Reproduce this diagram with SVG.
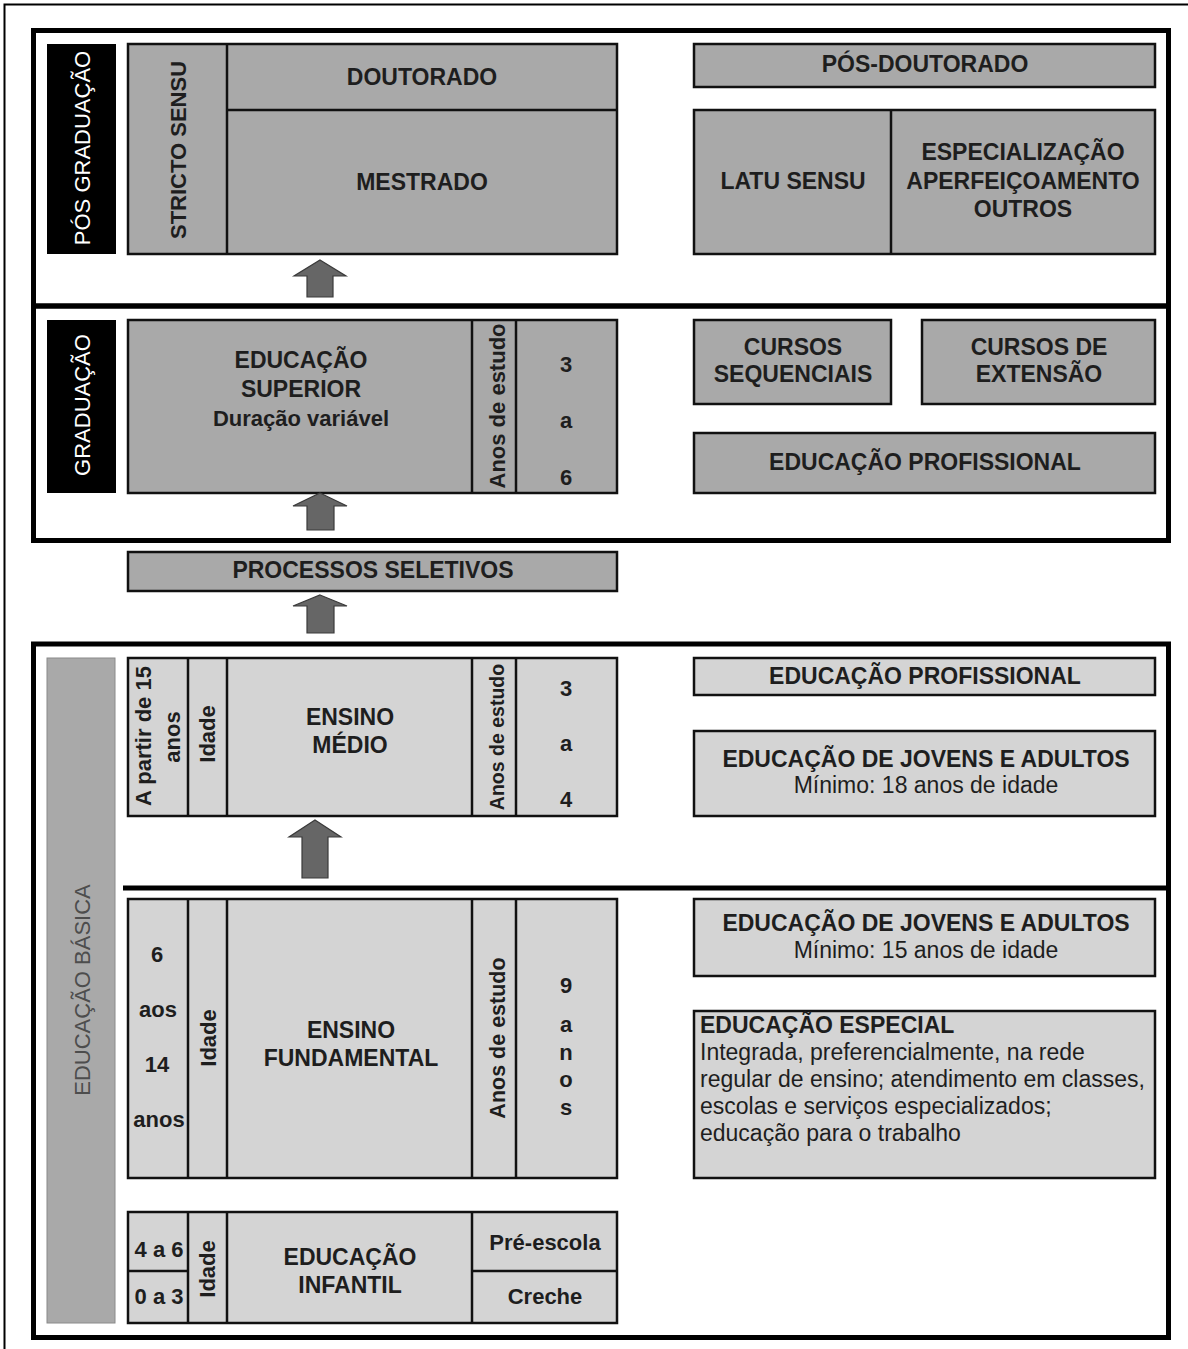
<svg xmlns="http://www.w3.org/2000/svg" width="1188" height="1349" viewBox="0 0 1188 1349">
<style>
.bg{fill:#fff}
.sec{fill:none;stroke:#000;stroke-width:5}
.dk{fill:#a9a9a9;stroke:#111;stroke-width:2.5}
.lt{fill:#d4d4d4;stroke:#111;stroke-width:2.5}
.blk{fill:#000}
.ln{stroke:#111;stroke-width:2.5;fill:none}
.arr{fill:#666;stroke:#3a3a3a;stroke-width:1.2}
text{font-family:"Liberation Sans",Arial,Helvetica,sans-serif;fill:#1e1e1e}
.b{font-weight:bold;font-size:23px;text-anchor:middle}
.r{font-weight:normal;font-size:23px;text-anchor:middle}
.bl{font-weight:bold;font-size:23px}
.rl{font-weight:normal;font-size:23px}
.vb{font-weight:bold;font-size:22px;text-anchor:middle}
.vr{font-weight:normal;font-size:22px;text-anchor:middle}
.w{fill:#fff}
.g{fill:#4d4d4d}
</style>
<rect class="bg" x="0" y="0" width="1188" height="1349"/>
<g id="page-border">
<polyline points="4.5,1349 4.5,4.5 1188,4.5" fill="none" stroke="#000" stroke-width="2"/>
</g>

<g id="sections">
<rect class="sec" x="33.5" y="30.5" width="1135" height="275.5"/>
<rect class="sec" x="33.5" y="306" width="1135" height="234.5"/>
<rect class="sec" x="33.5" y="644" width="1135" height="693.5"/>
<line x1="123" y1="888" x2="1168" y2="888" stroke="#000" stroke-width="5"/>
</g>

<!-- PÓS-GRADUAÇÃO -->
<g id="pos-graduacao-label">
<rect class="blk" x="47" y="44" width="69" height="210"/>
<text class="vr w" transform="translate(90,148) rotate(-90)">PÓS GRADUAÇÃO</text>
</g>
<g id="stricto-sensu">
<rect class="dk" x="128" y="44" width="489" height="210"/>
<line class="ln" x1="227" y1="44" x2="227" y2="254"/>
<line class="ln" x1="227" y1="110" x2="617" y2="110"/>
<text class="vb" transform="translate(186,150) rotate(-90)">STRICTO SENSU</text>
<text class="b" x="422" y="85">DOUTORADO</text>
<text class="b" x="422" y="190">MESTRADO</text>
</g>
<g id="pos-doutorado">
<rect class="dk" x="694" y="44" width="461" height="43"/>
<text class="b" x="925" y="72">PÓS-DOUTORADO</text>
</g>
<g id="latu-sensu">
<rect class="dk" x="694" y="110" width="461" height="144"/>
<line class="ln" x1="891" y1="110" x2="891" y2="254"/>
<text class="b" x="793" y="189">LATU SENSU</text>
<text class="b" x="1023" y="160">ESPECIALIZAÇÃO</text>
<text class="b" x="1023" y="189">APERFEIÇOAMENTO</text>
<text class="b" x="1023" y="217">OUTROS</text>
</g>

<!-- GRADUAÇÃO -->
<g id="graduacao-label">
<rect class="blk" x="47" y="320" width="69" height="173"/>
<text class="vr w" transform="translate(90,405) rotate(-90)">GRADUAÇÃO</text>
</g>
<g id="educacao-superior">
<rect class="dk" x="128" y="320" width="489" height="173"/>
<line class="ln" x1="472" y1="320" x2="472" y2="493"/>
<line class="ln" x1="516" y1="320" x2="516" y2="493"/>
<text class="b" x="301" y="368">EDUCAÇÃO</text>
<text class="b" x="301" y="397">SUPERIOR</text>
<text class="b" x="301" y="426" style="font-size:22px">Duração variável</text>
<text class="vb" transform="translate(505,406) rotate(-90)">Anos de estudo</text>
<text class="b" x="566" y="372" style="font-size:22px">3</text>
<text class="b" x="566" y="428" style="font-size:22px">a</text>
<text class="b" x="566" y="485" style="font-size:22px">6</text>
</g>
<g id="cursos-sequenciais">
<rect class="dk" x="694" y="320" width="197" height="84"/>
<text class="b" x="793" y="355">CURSOS</text>
<text class="b" x="793" y="382">SEQUENCIAIS</text>
</g>
<g id="cursos-extensao">
<rect class="dk" x="922" y="320" width="233" height="84"/>
<text class="b" x="1039" y="355">CURSOS DE</text>
<text class="b" x="1039" y="382">EXTENSÃO</text>
</g>
<g id="educacao-profissional-sup">
<rect class="dk" x="694" y="433" width="461" height="60"/>
<text class="b" x="925" y="470">EDUCAÇÃO PROFISSIONAL</text>
</g>

<g id="processos-seletivos">
<rect class="dk" x="128" y="552" width="489" height="39"/>
<text class="b" x="373" y="578">PROCESSOS SELETIVOS</text>
</g>

<!-- EDUCAÇÃO BÁSICA -->
<g id="educacao-basica-label">
<rect x="47" y="658" width="68" height="665" fill="#a9a9a9" stroke="#8a8a8a" stroke-width="1"/>
<text class="vr g" transform="translate(90,990) rotate(-90)">EDUCAÇÃO BÁSICA</text>
</g>
<g id="ensino-medio">
<rect class="lt" x="128" y="658" width="489" height="158"/>
<line class="ln" x1="188" y1="658" x2="188" y2="816"/>
<line class="ln" x1="227" y1="658" x2="227" y2="816"/>
<line class="ln" x1="472" y1="658" x2="472" y2="816"/>
<line class="ln" x1="516" y1="658" x2="516" y2="816"/>
<text class="vb" transform="translate(151,736) rotate(-90)">A partir de 15</text>
<text class="vb" transform="translate(180,737) rotate(-90)">anos</text>
<text class="vb" transform="translate(215,734) rotate(-90)">Idade</text>
<text class="b" x="350" y="725">ENSINO</text>
<text class="b" x="350" y="753">MÉDIO</text>
<text class="vb" transform="translate(504,737) rotate(-90)" style="font-size:19.5px">Anos de estudo</text>
<text class="b" x="566" y="696" style="font-size:22px">3</text>
<text class="b" x="566" y="751" style="font-size:22px">a</text>
<text class="b" x="566" y="807" style="font-size:22px">4</text>
</g>
<g id="educacao-profissional-med">
<rect class="lt" x="694" y="658" width="461" height="37"/>
<text class="b" x="925" y="684">EDUCAÇÃO PROFISSIONAL</text>
</g>
<g id="eja-18">
<rect class="lt" x="694" y="731" width="461" height="85"/>
<text class="b" x="926" y="767">EDUCAÇÃO DE JOVENS E ADULTOS</text>
<text class="r" x="926" y="793">Mínimo: 18 anos de idade</text>
</g>

<g id="ensino-fundamental">
<rect class="lt" x="128" y="899" width="489" height="279"/>
<line class="ln" x1="188" y1="899" x2="188" y2="1178"/>
<line class="ln" x1="227" y1="899" x2="227" y2="1178"/>
<line class="ln" x1="472" y1="899" x2="472" y2="1178"/>
<line class="ln" x1="516" y1="899" x2="516" y2="1178"/>
<text class="b" x="157" y="962" style="font-size:22px">6</text>
<text class="b" x="158" y="1017" style="font-size:22px">aos</text>
<text class="b" x="157" y="1072" style="font-size:22px">14</text>
<text class="b" x="159" y="1127" style="font-size:22px">anos</text>
<text class="vb" transform="translate(216,1038) rotate(-90)">Idade</text>
<text class="b" x="351" y="1038">ENSINO</text>
<text class="b" x="351" y="1066">FUNDAMENTAL</text>
<text class="vb" transform="translate(505,1038) rotate(-90)" style="font-size:21.5px">Anos de estudo</text>
<text class="b" x="566" y="993" style="font-size:22px">9</text>
<text class="b" x="566" y="1032" style="font-size:22px">a</text>
<text class="b" x="566" y="1060" style="font-size:22px">n</text>
<text class="b" x="566" y="1087" style="font-size:22px">o</text>
<text class="b" x="566" y="1115" style="font-size:22px">s</text>
</g>
<g id="eja-15">
<rect class="lt" x="694" y="899" width="461" height="77"/>
<text class="b" x="926" y="931">EDUCAÇÃO DE JOVENS E ADULTOS</text>
<text class="r" x="926" y="958">Mínimo: 15 anos de idade</text>
</g>
<g id="educacao-especial">
<rect class="lt" x="694" y="1011" width="461" height="167"/>
<text class="bl" x="700" y="1033">EDUCAÇÃO ESPECIAL</text>
<text class="rl" x="700" y="1060">Integrada, preferencialmente, na rede</text>
<text class="rl" x="700" y="1087">regular de ensino; atendimento em classes,</text>
<text class="rl" x="700" y="1114">escolas e serviços especializados;</text>
<text class="rl" x="700" y="1141">educação para o trabalho</text>
</g>

<g id="educacao-infantil">
<rect class="lt" x="128" y="1212" width="489" height="111"/>
<line class="ln" x1="188" y1="1212" x2="188" y2="1323"/>
<line class="ln" x1="227" y1="1212" x2="227" y2="1323"/>
<line class="ln" x1="472" y1="1212" x2="472" y2="1323"/>
<line class="ln" x1="128" y1="1271" x2="188" y2="1271"/>
<line class="ln" x1="472" y1="1271" x2="617" y2="1271"/>
<text class="b" x="159" y="1257" style="font-size:22px">4 a 6</text>
<text class="b" x="159" y="1304" style="font-size:22px">0 a 3</text>
<text class="vb" transform="translate(215,1269) rotate(-90)">Idade</text>
<text class="b" x="350" y="1265">EDUCAÇÃO</text>
<text class="b" x="350" y="1293">INFANTIL</text>
<text class="b" x="545" y="1250" style="font-size:22px">Pré-escola</text>
<text class="b" x="545" y="1304" style="font-size:22px">Creche</text>
</g>

<g id="connectors">
<polygon class="arr" points="320,260 346,276 333,276 333,297 307,297 307,276 294,276"/>
<polygon class="arr" points="320,493 347,506 334,506 334,530 307,530 307,506 293,506"/>
<polygon class="arr" points="320,595 347,606 334,606 334,633 307,633 307,606 293,606"/>
<polygon class="arr" points="315,820 341,837 328,837 328,878 302,878 302,837 289,837"/>
</g>
</svg>
